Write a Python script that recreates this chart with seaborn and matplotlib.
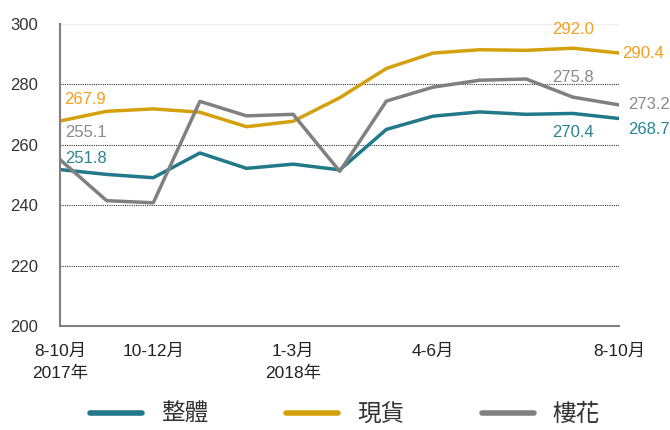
import numpy as np
import pandas as pd
import matplotlib
matplotlib.use("Agg")
import matplotlib.pyplot as plt
import seaborn as sns

# Values
periods = ["8-10月\n2017年", "9-11月", "10-12月", "11-1月", "12-2月", "1-3月\n2018年",
           "2-4月", "3-5月", "4-6月", "5-7月", "6-8月", "7-9月", "8-10月"]
overall = [251.8, 250.2, 249.1, 257.3, 252.2, 253.6, 251.7, 265.1, 269.5, 270.9, 270.1, 270.4, 268.7]
spot = [267.9, 271.1, 271.9, 270.8, 266.0, 267.8, 275.6, 285.3, 290.4, 291.5, 291.3, 292.0, 290.4]
presale = [255.1, 241.5, 240.8, 274.4, 269.6, 270.1, 251.2, 274.5, 279.1, 281.4, 281.8, 275.8, 273.2]
series_names = ["整體", "現貨", "樓花"]
shown_ticks = [0, 2, 5, 8, 12]

COLORS = {"整體": "#21798A", "現貨": "#D4A10C", "樓花": "#808080"}
LABEL_COLORS = {"整體": "#2A8393", "現貨": "#F59E1B", "樓花": "#8A8A8A"}

sns.set_theme(style="white")
plt.rcParams["font.family"] = ["Liberation Sans", "Noto Sans CJK TC", "DejaVu Sans"]

idx = np.arange(len(periods))
df = pd.DataFrame({
    "idx": np.tile(idx, 3),
    "value": overall + spot + presale,
    "series": np.repeat(series_names, len(periods)),
})

fig = plt.figure(figsize=(6.7, 4.3), dpi=100)
ax = fig.add_axes([0.0896, 0.242, 0.835, 0.702])

sns.lineplot(data=df, x="idx", y="value", hue="series", palette=COLORS,
             hue_order=series_names, linewidth=2.5, ax=ax, legend=False)

ax.set_xlim(0, 12)
ax.set_ylim(200, 300)
ax.set_xlabel("")
ax.set_ylabel("")

# dotted grid lines
for y in [220, 240, 260, 280]:
    ax.axhline(y, color="#333333", linestyle=(0, (1, 1)), linewidth=0.8, zorder=0)
ax.axhline(300, color="#eeeeee", linewidth=0.8, zorder=0)

ax.set_yticks([200, 220, 240, 260, 280, 300])
ax.tick_params(axis="y", direction="in", length=3, color="#808080", labelsize=12,
               labelcolor="#333333", pad=16)
ax.set_xticks(shown_ticks)
ax.set_xticklabels([periods[i] for i in shown_ticks], linespacing=1.5)
ax.tick_params(axis="x", length=0, labelsize=12.5, labelcolor="#222222", pad=13)
ax.set_xticks(list(np.arange(0.5, 12, 1.0)) + [12], minor=True)
ax.tick_params(axis="x", which="minor", direction="in", length=3, color="#808080")

for side in ["top", "right"]:
    ax.spines[side].set_visible(False)
for side in ["left", "bottom"]:
    ax.spines[side].set_color("#808080")
    ax.spines[side].set_linewidth(1.5)

# value labels
fs = 12
ax.annotate(f"{spot[0]:.1f}", (0, spot[0]), xytext=(3, 12), textcoords="offset points",
            color=LABEL_COLORS["現貨"], fontsize=fs, ha="left")
ax.annotate(f"{presale[0]:.1f}", (0, presale[0]), xytext=(4, 16), textcoords="offset points",
            color=LABEL_COLORS["樓花"], fontsize=fs, ha="left")
ax.annotate(f"{overall[0]:.1f}", (0, overall[0]), xytext=(4, 5), textcoords="offset points",
            color=LABEL_COLORS["整體"], fontsize=fs, ha="left")
ax.annotate(f"{spot[11]:.1f}", (11, spot[11]), xytext=(0, 10), textcoords="offset points",
            color=LABEL_COLORS["現貨"], fontsize=fs, ha="center")
ax.annotate(f"{presale[11]:.1f}", (11, presale[11]), xytext=(0, 11), textcoords="offset points",
            color=LABEL_COLORS["樓花"], fontsize=fs, ha="center")
ax.annotate(f"{overall[11]:.1f}", (11, overall[11]), xytext=(0, -17), textcoords="offset points",
            color=LABEL_COLORS["整體"], fontsize=fs, ha="center")
ax.annotate(f"{spot[12]:.1f}", (12, spot[12]), xytext=(2, 0), textcoords="offset points",
            color=LABEL_COLORS["現貨"], fontsize=fs, ha="left", va="center")
ax.annotate(f"{presale[12]:.1f}", (12, presale[12]), xytext=(6, 0), textcoords="offset points",
            color=LABEL_COLORS["樓花"], fontsize=fs, ha="left", va="center")
ax.annotate(f"{overall[12]:.1f}", (12, overall[12]), xytext=(6, -8), textcoords="offset points",
            color=LABEL_COLORS["整體"], fontsize=fs, ha="left", va="center")

for a in ax.texts:
    a.set_clip_on(False)

handles = [plt.Line2D([], [], color=COLORS[n], linewidth=4, solid_capstyle="round") for n in series_names]
fig.legend(handles, series_names, loc="lower center", bbox_to_anchor=(0.515, -0.04), ncol=3,
           frameon=False, fontsize=17, handlelength=2.2, columnspacing=3.3, handletextpad=0.8,
           labelcolor="#333333")

fig.savefig("out.png", dpi=100)
